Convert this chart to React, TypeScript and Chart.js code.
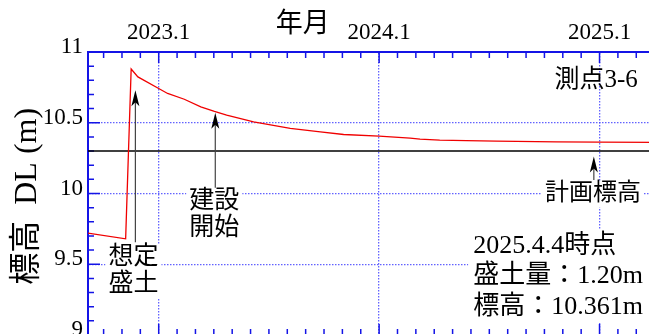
import { useEffect, useRef } from "react";
import { Chart, registerables } from "chart.js";

Chart.register(...registerables);

// Settlement record at survey point 3-6 (ground elevation, DL m)
const surveyDates = [
  "2022-09-05", "2022-11-07", "2022-11-16", "2022-11-27", "2023-01-01",
  "2023-01-16", "2023-02-12", "2023-03-10", "2023-04-02", "2023-04-22",
  "2023-06-06", "2023-08-06", "2023-09-25", "2023-11-03", "2024-01-01",
  "2024-02-21", "2024-03-08", "2024-04-10", "2024-05-24", "2024-07-13",
  "2024-10-21", "2025-01-01", "2025-04-04",
];
const elevations = [
  9.72, 9.68, 10.88, 10.824, 10.742,
  10.707, 10.666, 10.612, 10.58, 10.554,
  10.506, 10.46, 10.436, 10.417, 10.405,
  10.392, 10.384, 10.377, 10.374, 10.37,
  10.365, 10.363, 10.361,
];
const plannedElevation = 10.3;
const yearTickLabels = ["2023.1", "2024.1", "2025.1"];
const elevationTickValues = [9, 9.5, 10, 10.5, 11];

const pointName = "測点3-6";
const statusLines = ["2025.4.4時点", "盛土量：1.20m", "標高：10.361m"];
const xTitle = "年月";
const yTitle = "標高  DL (m)";

const BASE_YEAR = 2023;
const X_MIN = -3.85;
const X_MAX = 28;

const AXIS_BLUE = "#1414e6";
const GRID_BLUE = "rgba(70,70,255,0.85)";
const FONT = "'Liberation Serif', 'Noto Sans CJK JP', serif";

// months elapsed since January of BASE_YEAR
const toMonth = (iso: string) => {
  const [y, m, d] = iso.split("-").map(Number);
  const days = new Date(Date.UTC(y, m, 0)).getUTCDate();
  return (y - BASE_YEAR) * 12 + (m - 1) + (d - 1) / days;
};
const labelToMonth = (label: string) => {
  const [y, m] = label.split(".").map(Number);
  return (y - BASE_YEAR) * 12 + (m - 1);
};

const arrows = [
  { x: -1.27, tip: 10.73, tail: 9.655 },
  { x: 3.08, tip: 10.57, tail: 10.04 },
  { x: 23.69, tip: 10.262, tail: 10.095 },
];

const notes = [
  { lines: ["想定", "盛土"], x: -1.376, y: 9.549, size: 25, gap: 27 },
  { lines: ["建設", "開始"], x: 3.027, y: 9.944, size: 25, gap: 27 },
  { lines: ["計画標高"], x: 23.64, y: 10.0, size: 24, gap: 0 },
];

const decorations = {
  id: "decorations",
  beforeDatasetsDraw(chart: any) {
    const { ctx, chartArea: a, scales } = chart;
    const x = scales.x;
    const y = scales.y;
    ctx.save();

    // text backgrounds and labels
    ctx.textBaseline = "middle";
    for (const n of notes) {
      ctx.font = `${n.size}px ${FONT}`;
      ctx.textAlign = "center";
      const cx = x.getPixelForValue(n.x);
      const cy0 = y.getPixelForValue(n.y);
      n.lines.forEach((t, i) => {
        const cy = cy0 + i * n.gap;
        const w = ctx.measureText(t).width;
        ctx.fillStyle = "#fff";
        ctx.fillRect(cx - w / 2 - 3, cy - n.size / 2, w + 6, n.size + 2);
        ctx.fillStyle = "#000";
        ctx.fillText(t, cx, cy);
      });
    }

    // status block at lower right
    const sx = x.getPixelForValue(17.12);
    const sy = y.getPixelForValue(9.63);
    ctx.fillStyle = "#fff";
    ctx.fillRect(sx - 5, sy - 16, a.right - sx + 5, 30.5 * 2 + 32);
    ctx.font = `26px ${FONT}`;
    ctx.textAlign = "left";
    ctx.fillStyle = "#000";
    statusLines.forEach((t, i) => ctx.fillText(t, sx, sy + i * 30.5));

    // point name
    ctx.font = `25px ${FONT}`;
    ctx.textAlign = "right";
    ctx.fillText(pointName, x.getPixelForValue(26.08), y.getPixelForValue(10.8));

    // axis titles
    ctx.font = `27px ${FONT}`;
    ctx.textAlign = "center";
    ctx.fillText(xTitle, x.getPixelForValue(7.84), a.top - 27);

    ctx.save();
    ctx.translate(a.left - 60, y.getPixelForValue(9.98));
    ctx.rotate(-Math.PI / 2);
    ctx.font = `32px ${FONT}`;
    ctx.fillText(yTitle, 0, 0);
    ctx.restore();

    // month ticks on top and bottom edges, 0.1 m ticks on left and right edges
    ctx.strokeStyle = AXIS_BLUE;
    ctx.lineWidth = 1.5;
    ctx.beginPath();
    for (let m = Math.ceil(x.min); m <= Math.floor(x.max); m++) {
      const px = x.getPixelForValue(m);
      const len = m % 12 === 0 ? 11 : 6;
      ctx.moveTo(px, a.top);
      ctx.lineTo(px, a.top + len);
      ctx.moveTo(px, a.bottom);
      ctx.lineTo(px, a.bottom - len);
    }
    for (let k = 90; k <= 110; k++) {
      const py = y.getPixelForValue(k / 10);
      const len = k % 5 === 0 ? 12 : 6;
      ctx.moveTo(a.left, py);
      ctx.lineTo(a.left + len, py);
      ctx.moveTo(a.right, py);
      ctx.lineTo(a.right - len, py);
    }
    ctx.stroke();
    ctx.lineWidth = 2;
    ctx.beginPath();
    ctx.moveTo(a.left, a.bottom);
    ctx.lineTo(a.right, a.bottom);
    ctx.lineTo(a.right, a.top);
    ctx.stroke();
    ctx.restore();
  },
  afterDatasetsDraw(chart: any) {
    const { ctx, scales } = chart;
    const x = scales.x;
    const y = scales.y;
    ctx.save();
    for (const ar of arrows) {
      const px = x.getPixelForValue(ar.x);
      const tip = y.getPixelForValue(ar.tip);
      const tail = y.getPixelForValue(ar.tail);
      ctx.strokeStyle = "#444";
      ctx.lineWidth = 1.2;
      ctx.beginPath();
      ctx.moveTo(px, tip + 8);
      ctx.lineTo(px, tail);
      ctx.stroke();
      ctx.fillStyle = "#000";
      ctx.beginPath();
      ctx.moveTo(px, tip);
      ctx.lineTo(px - 4, tip + 16);
      ctx.lineTo(px, tip + 12);
      ctx.lineTo(px + 4, tip + 16);
      ctx.closePath();
      ctx.fill();
    }
    ctx.restore();
  },
};

export default function App() {
  const ref = useRef<HTMLCanvasElement>(null);

  useEffect(() => {
    if (!ref.current) return;
    const yearTicks = yearTickLabels.map(labelToMonth);
    const chart = new Chart(ref.current, {
      type: "line",
      data: {
        datasets: [
          {
            data: surveyDates.map((d, i) => ({ x: toMonth(d), y: elevations[i] })),
            borderColor: "#f00000",
            borderWidth: 1.3,
            pointRadius: 0,
            tension: 0,
          },
          {
            data: [
              { x: X_MIN, y: plannedElevation },
              { x: X_MAX, y: plannedElevation },
            ],
            borderColor: "#000",
            borderWidth: 1.5,
            pointRadius: 0,
          },
        ],
      },
      options: {
        animation: false,
        responsive: false,
        layout: { padding: { left: 0, top: 0, right: 17, bottom: 25 } },
        plugins: { legend: { display: false }, tooltip: { enabled: false } },
        scales: {
          x: {
            type: "linear",
            position: "top",
            min: X_MIN,
            max: X_MAX,
            afterBuildTicks: (s: any) => {
              s.ticks = yearTicks.map((v) => ({ value: v }));
            },
            afterFit: (s: any) => {
              s.height = 52;
            },
            ticks: {
              autoSkip: false,
              maxRotation: 0,
              padding: 5,
              color: "#000",
              font: { family: FONT, size: 23 },
              callback: (v: any) => yearTickLabels[yearTicks.indexOf(Number(v))] ?? "",
            },
            grid: { color: GRID_BLUE, lineWidth: 1.3, drawTicks: false },
            border: { color: AXIS_BLUE, width: 2, dash: [1.5, 1.5] },
          },
          y: {
            type: "linear",
            min: 9,
            max: 11,
            afterBuildTicks: (s: any) => {
              s.ticks = elevationTickValues.map((v) => ({ value: v }));
            },
            afterFit: (s: any) => {
              s.width = 88;
            },
            ticks: {
              padding: 5,
              labelOffset: -5,
              color: "#000",
              font: { family: FONT, size: 23 },
              callback: (v: any) => String(v),
            },
            grid: { color: GRID_BLUE, lineWidth: 1.3, drawTicks: false },
            border: { color: AXIS_BLUE, width: 2, dash: [1.5, 1.5] },
          },
        },
      },
      plugins: [decorations],
    });
    return () => chart.destroy();
  }, []);

  return (
    <div
      style={{
        position: "fixed",
        left: 0,
        top: 0,
        width: 649,
        height: 334,
        overflow: "hidden",
        background: "#fff",
      }}
    >
      <canvas ref={ref} width={690} height={360} style={{ display: "block", width: 690, height: 360 }} />
    </div>
  );
}
